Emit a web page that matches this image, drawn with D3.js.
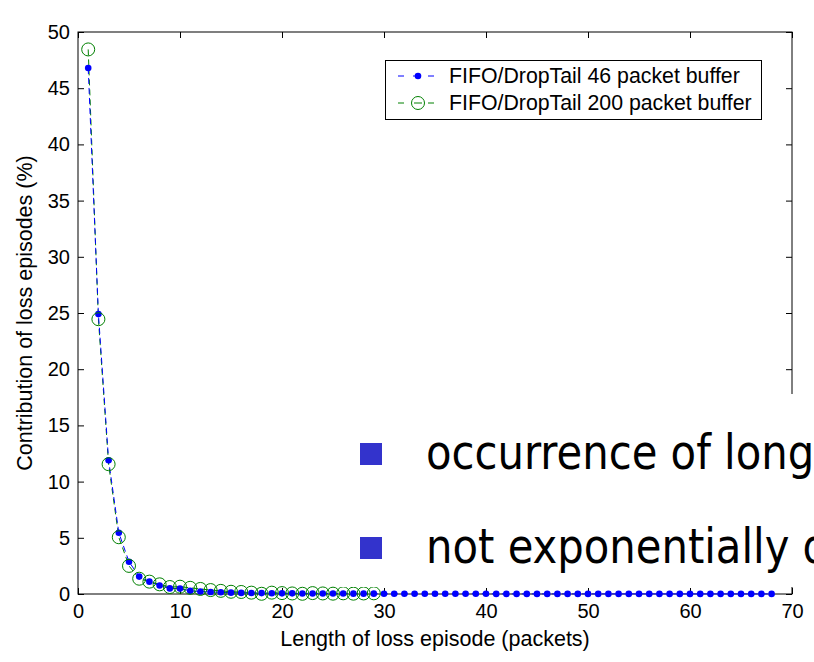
<!DOCTYPE html>
<html>
<head>
<meta charset="utf-8">
<script src="https://cdn.jsdelivr.net/npm/d3@7"></script>
<style>
  html, body { margin: 0; padding: 0; background: #fff; overflow: hidden; }
  svg { display: block; }
  text { font-family: "Liberation Sans", Arial, sans-serif; }
</style>
</head>
<body>
<svg id="chart" width="814" height="662"></svg>
<script>
// ---- data ----
const lengths46 = [1,2,3,4,5,6,7,8,9,10,11,12,13,14,15,16,17,18,19,20,21,22,23,24,25,26,27,28,29,30,31,32,33,34,35,36,37,38,39,40,41,42,43,44,45,46,47,48,49,50,51,52,53,54,55,56,57,58,59,60,61,62,63,64,65,66,67,68];
const contrib46 = [46.8,24.9,11.9,5.45,2.87,1.55,1.1,0.75,0.5,0.48,0.28,0.22,0.18,0.15,0.12,0.1,0.09,0.08,0.07,0.06,0.06,0.05,0.05,0.04,0.04,0.04,0.03,0.03,0.03,0.02,0.02,0.02,0.02,0.02,0.02,0.02,0.02,0.02,0.02,0.02,0.01,0.01,0.01,0.01,0.01,0.01,0.01,0.01,0.01,0.01,0.01,0.01,0.01,0.01,0.01,0.01,0.01,0.01,0.01,0.01,0.01,0.01,0.01,0.01,0.01,0.01,0.01,0.01];
const lengths200 = [1,2,3,4,5,6,7,8,9,10,11,12,13,14,15,16,17,18,19,20,21,22,23,24,25,26,27,28,29];
const contrib200 = [48.45,24.45,11.55,5.05,2.5,1.36,1.1,0.86,0.62,0.65,0.55,0.45,0.35,0.28,0.2,0.18,0.12,0.02,0.12,0.08,0.05,0.02,0.08,0.05,0.03,0.06,0.03,0.05,0.06];
const xTicks = [0,10,20,30,40,50,60,70];
const yTicks = [0,5,10,15,20,25,30,35,40,45,50];
const seriesNames = ["FIFO/DropTail 46 packet buffer", "FIFO/DropTail 200 packet buffer"];
const xTitle = "Length of loss episode (packets)";
const yTitle = "Contribution of loss episodes (%)";
const bullets = ["occurrence of long loss episodes", "not exponentially distributed"];

// ---- layout ----
const svg = d3.select("#chart");
const L = 78, R = 792, T = 32, B = 594;
const x = d3.scaleLinear().domain([0, 70]).range([L, R]);
const y = d3.scaleLinear().domain([0, 50]).range([B, T]);
const tickLen = 6;

// axes box
const g = svg.append("g");
g.append("rect").attr("x", L).attr("y", T).attr("width", R - L).attr("height", B - T)
  .attr("fill", "none").attr("stroke", "#000").attr("stroke-width", 1);

const bottomAxis = d3.axisBottom(x).tickValues(xTicks).tickSize(-tickLen).tickPadding(10).tickFormat(d3.format("d"));
const gb = g.append("g").attr("transform", `translate(0,${B})`).call(bottomAxis);
const topAxis = d3.axisTop(x).tickValues(xTicks).tickSize(-tickLen).tickFormat("");
const gt = g.append("g").attr("transform", `translate(0,${T})`).call(topAxis);
const leftAxis = d3.axisLeft(y).tickValues(yTicks).tickSize(-tickLen).tickPadding(10).tickFormat(d3.format("d"));
const gl = g.append("g").attr("transform", `translate(${L},0)`).call(leftAxis);
const rightAxis = d3.axisRight(y).tickValues(yTicks).tickSize(-tickLen).tickFormat("");
const gr = g.append("g").attr("transform", `translate(${R},0)`).call(rightAxis);
[gb, gt, gl, gr].forEach(a => {
  a.select(".domain").remove();
  a.selectAll("line").attr("stroke", "#000");
  a.selectAll("text").attr("fill", "#000").style("font-size", "20px")
    .style("font-family", '"Liberation Sans", Arial, sans-serif');
});
gl.selectAll("text").attr("dx", "2");

// axis titles
svg.append("text").attr("x", (L + R) / 2).attr("y", 646).attr("text-anchor", "middle")
  .style("font-size", "21.5px").text(xTitle);
svg.append("text").attr("transform", `translate(32,${(T + B) / 2}) rotate(-90)`)
  .attr("text-anchor", "middle").style("font-size", "21.5px").text(yTitle);

// data lines
const line = d3.line().x(d => x(d[0])).y(d => y(d[1]));
const d46 = lengths46.map((v, i) => [v, contrib46[i]]);
const d200 = lengths200.map((v, i) => [v, contrib200[i]]);

svg.append("path").datum(d200).attr("d", line).attr("fill", "none")
  .attr("stroke", "#008000").attr("stroke-width", 1).attr("stroke-dasharray", "6,4");
svg.append("path").datum(d46).attr("d", line).attr("fill", "none")
  .attr("stroke", "#0000ff").attr("stroke-width", 1).attr("stroke-dasharray", "6,4");

svg.append("g").selectAll("circle").data(d46).join("circle")
  .attr("cx", d => x(d[0])).attr("cy", d => y(d[1])).attr("r", 3.3)
  .attr("fill", "#0000ff");
svg.append("g").selectAll("circle").data(d200).join("circle")
  .attr("cx", d => x(d[0])).attr("cy", d => y(d[1])).attr("r", 6.5)
  .attr("fill", "none").attr("stroke", "#008000").attr("stroke-width", 1);

// legend
const lg = svg.append("g");
lg.append("rect").attr("x", 385.5).attr("y", 60.5).attr("width", 376).attr("height", 59)
  .attr("fill", "#fff").attr("stroke", "#000").attr("stroke-width", 1);
const rows = [83, 110];
// row 1
lg.append("line").attr("x1", 398).attr("x2", 438).attr("y1", rows[0] - 7).attr("y2", rows[0] - 7)
  .attr("stroke", "#0000ff").attr("stroke-dasharray", "6,9");
lg.append("circle").attr("cx", 418).attr("cy", rows[0] - 7).attr("r", 3.3).attr("fill", "#0000ff");
// row 2
lg.append("line").attr("x1", 398).attr("x2", 438).attr("y1", rows[1] - 7).attr("y2", rows[1] - 7)
  .attr("stroke", "#008000").attr("stroke-dasharray", "6,9");
lg.append("circle").attr("cx", 418).attr("cy", rows[1] - 7).attr("r", 6.5)
  .attr("fill", "#fff").attr("stroke", "#008000");
lg.append("line").attr("x1", 414).attr("x2", 422).attr("y1", rows[1] - 7).attr("y2", rows[1] - 7)
  .attr("stroke", "#008000");
seriesNames.forEach((s, i) => {
  lg.append("text").attr("x", 449).attr("y", rows[i]).style("font-size", "21.3px").text(s);
});

// slide overlay
svg.append("rect").attr("x", 340).attr("y", 394).attr("width", 474).attr("height", 193).attr("fill", "#fff");
const bulletY = [469, 563];
bullets.forEach((b, i) => {
  svg.append("rect").attr("x", 360).attr("y", bulletY[i] - 26).attr("width", 22).attr("height", 22)
    .attr("fill", "#3333cc");
  svg.append("text").attr("transform", `translate(426,${bulletY[i]}) scale(0.87,1)`)
    .style("font-family", '"DejaVu Sans", Verdana, sans-serif').style("font-size", "48px")
    .attr("fill", "#000").text(b);
});
</script>
</body>
</html>
